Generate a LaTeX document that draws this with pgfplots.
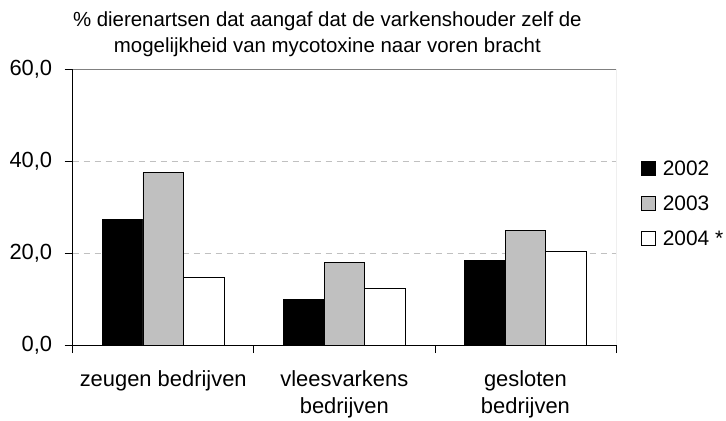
\documentclass[border=0pt]{standalone}
\usepackage{fontspec}
\setmainfont{Liberation Sans}
\usepackage{pgfplots}
\pgfplotsset{compat=1.18}
\definecolor{bargray}{HTML}{C0C0C0}
\definecolor{gridgray}{HTML}{C0C0C0}
\definecolor{bordergray}{HTML}{808080}
\begin{document}
\begin{tikzpicture}
\useasboundingbox (-72.7bp,-76bp) rectangle (653.3bp,345bp);
\begin{axis}[
  at={(0,0)}, anchor=south west,
  scale only axis, width=543.3bp, height=276bp,
  ymin=0, ymax=60, ytick={0,20,40,60},
  xmin=-0.5, xmax=2.5,
  xtick={0,1,2},
  xticklabels={zeugen bedrijven, vleesvarkens\\bedrijven, gesloten\\bedrijven},
  minor xtick={-0.5,0.5,1.5,2.5},
  axis x line*=bottom, axis y line*=left,
  axis line style={black, line width=0.8bp},
  tick align=outside,
  major tick length=8bp, minor tick length=8bp,
  major x tick style={draw=none},
  every tick/.style={black, line width=0.8bp},
  minor x tick style={black, line width=0.8bp},
  ymajorgrids,
  grid style={gridgray, line width=0.8bp, dash pattern=on 6bp off 5bp},
  /pgf/number format/.cd, fixed, fixed zerofill, precision=1, use comma, assume math mode=true,
  /pgfplots/.cd,
  yticklabel style={font=\fontsize{22}{26}\selectfont, xshift=-9bp},
  xticklabel style={font=\fontsize{22}{27}\selectfont, align=center, anchor=north, yshift=-14bp},
  title={\% dierenartsen dat aangaf dat de varkenshouder zelf de\\mogelijkheid van mycotoxine naar voren bracht},
  title style={align=center, font=\fontsize{20.5}{26}\selectfont, xshift=-17bp, yshift=3bp},
  ybar=0pt, bar width=40.5bp,
  legend style={draw=none, fill=none, inner sep=0pt, outer sep=0pt,
    at={(rel axis cs:1,0.5145)}, anchor=west, xshift=25bp,
    font=\fontsize{21}{24}\selectfont,
    nodes={inner sep=0pt, text height=15bp, text depth=0bp},
    row sep=20bp, column sep=7bp},
  legend cell align=left,
  legend image code/.code={\draw[#1, draw=black, line width=0.8bp] (0bp,-7bp) rectangle (14bp,7bp);},
]
\addplot[fill=black, draw=black, line width=0.8bp] coordinates {(0,27.2) (1,10.0) (2,18.3)};
\addplot[fill=bargray, draw=black, line width=0.8bp] coordinates {(0,37.5) (1,17.9) (2,24.9)};
\addplot[fill=white, draw=black, line width=0.8bp] coordinates {(0,14.6) (1,12.2) (2,20.4)};
\legend{2002, 2003, 2004 *}
\draw[bordergray, line width=0.8bp] (rel axis cs:0,1) -- (rel axis cs:1,1) -- (rel axis cs:1,0);
\end{axis}
\end{tikzpicture}
\end{document}
